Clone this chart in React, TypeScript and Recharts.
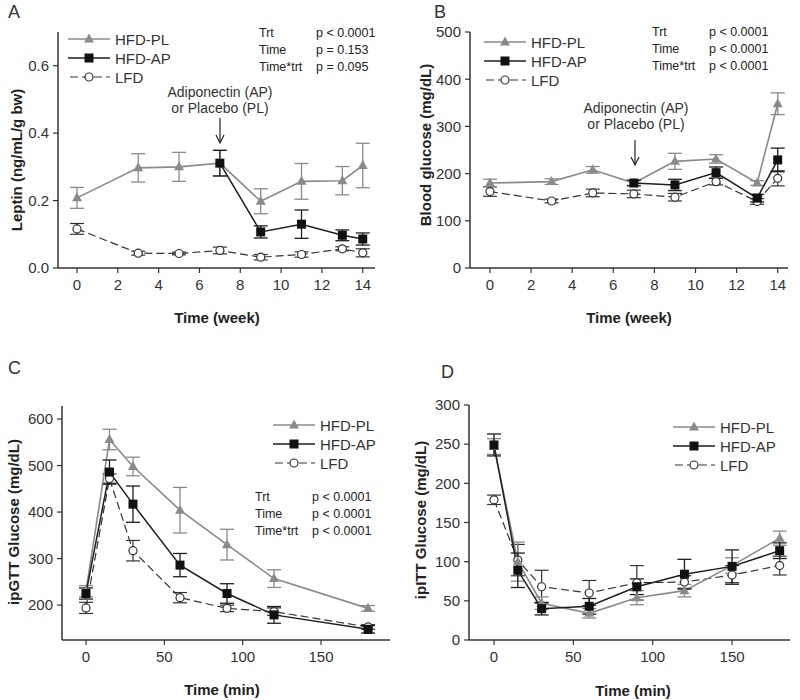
import React from "react";
import { LineChart, Line, XAxis, YAxis, ErrorBar } from "recharts";

// Panel A: leptin over weeks
const weeksA = [0, 3, 5, 7, 9, 11, 13, 14];
const weeksTrt = [7, 9, 11, 13, 14];
const leptinPL = [0.208, 0.297, 0.3, 0.311, 0.198, 0.257, 0.259, 0.304];
const leptinPLErr = [0.031, 0.042, 0.043, 0.038, 0.037, 0.053, 0.042, 0.066];
const leptinAP = [0.311, 0.107, 0.13, 0.097, 0.086];
const leptinAPErr = [0.038, 0.018, 0.042, 0.016, 0.018];
const leptinLFD = [0.116, 0.044, 0.043, 0.052, 0.032, 0.04, 0.057, 0.045];
const leptinLFDErr = [0.016, 0.006, 0.004, 0.01, 0.008, 0.008, 0.006, 0.012];

// Panel B: blood glucose over weeks
const bgPL = [180, 183, 208, 180, 226, 231, 180, 348];
const bgPLErr = [8, 6, 7, 5, 17, 9, 5, 23];
const bgAP = [180, 176, 202, 148, 229];
const bgAPErr = [6, 12, 12, 8, 25];
const bgLFD = [162, 142, 159, 157, 150, 183, 141, 190];
const bgLFDErr = [10, 4, 8, 8, 8, 7, 6, 16];

// Panel C: ipGTT
const gttMin = [0, 15, 30, 60, 90, 120, 180];
const gttPL = [230, 556, 498, 404, 330, 257, 193];
const gttPLErr = [12, 22, 20, 49, 33, 19, 6];
const gttAP = [225, 486, 417, 286, 225, 179, 148];
const gttAPErr = [12, 26, 39, 25, 21, 18, 8];
const gttLFD = [194, 472, 317, 216, 193, 186, 153];
const gttLFDErr = [12, 10, 22, 11, 7, 8, 5];

// Panel D: ipITT
const ittMin = [0, 15, 30, 60, 90, 120, 150, 180];
const ittPL = [247, 100, 47, 34, 54, 63, 95, 130];
const ittPLErr = [10, 25, 8, 6, 9, 8, 10, 9];
const ittAP = [249, 89, 40, 43, 68, 84, 94, 114];
const ittAPErr = [14, 22, 8, 10, 10, 19, 21, 10];
const ittLFD = [179, 102, 68, 60, 73, 74, 83, 95];
const ittLFDErr = [6, 20, 21, 16, 22, 8, 12, 12];

const rows = (xs: number[], ys: number[], es: number[]) =>
  xs.map((x, i) => ({ x, y: ys[i], e: es[i] }));

const GRAY = "#8a8a8a";
const DARK = "#1e1e1e";
const LFDC = "#333";
const TXT = "#333";
const FONT = "'Liberation Sans', Arial, sans-serif";

const triDot = (p: any) => {
  const { cx, cy, index } = p;
  if (cx == null || cy == null) return <g key={`t${index}`} />;
  return (
    <polygon
      key={`t${index}`}
      points={`${cx},${cy - 5.5} ${cx - 5},${cy + 3.5} ${cx + 5},${cy + 3.5}`}
      fill={GRAY}
    />
  );
};
const sqDot = (p: any) => {
  const { cx, cy, index } = p;
  if (cx == null || cy == null) return <g key={`s${index}`} />;
  return <rect key={`s${index}`} x={cx - 4.5} y={cy - 4.5} width={9} height={9} fill="#111" />;
};
const circDot = (p: any) => {
  const { cx, cy, index } = p;
  if (cx == null || cy == null) return <g key={`c${index}`} />;
  return <circle key={`c${index}`} cx={cx} cy={cy} r={4} fill="#fff" stroke={LFDC} strokeWidth={1.2} />;
};

type Series = { x: number; y: number; e: number }[];

const Panel = ({
  width, height, margin, yWidth, xDomain, xTicks, yDomain, yTicks, yFmt, pl, ap, lfd,
}: {
  width: number; height: number; margin: any; yWidth: number;
  xDomain: number[]; xTicks: number[]; yDomain: number[]; yTicks: number[];
  yFmt?: (v: number) => string; pl: Series; ap: Series; lfd: Series;
}) => (
  <LineChart width={width} height={height} margin={margin}>
    <XAxis
      dataKey="x"
      type="number"
      domain={xDomain}
      ticks={xTicks}
      allowDataOverflow
      height={40}
      tickSize={5}
      tickMargin={6}
      axisLine={{ stroke: TXT, strokeWidth: 1.5 }}
      tickLine={{ stroke: TXT, strokeWidth: 1.2 }}
      tick={{ fontSize: 15, fill: TXT, fontFamily: FONT }}
    />
    <YAxis
      type="number"
      domain={yDomain}
      ticks={yTicks}
      allowDataOverflow
      width={yWidth}
      tickSize={5}
      tickMargin={4}
      tickFormatter={yFmt}
      axisLine={{ stroke: TXT, strokeWidth: 1.5 }}
      tickLine={{ stroke: TXT, strokeWidth: 1.2 }}
      tick={{ fontSize: 15, fill: TXT, fontFamily: FONT }}
    />
    <Line data={lfd} dataKey="y" stroke={LFDC} strokeWidth={1.2} strokeDasharray="8 4"
      dot={circDot} activeDot={false} isAnimationActive={false}>
      <ErrorBar dataKey="e" width={7} stroke={LFDC} strokeWidth={1.2} />
    </Line>
    <Line data={pl} dataKey="y" stroke={GRAY} strokeWidth={1.6}
      dot={triDot} activeDot={false} isAnimationActive={false}>
      <ErrorBar dataKey="e" width={7} stroke={GRAY} strokeWidth={1.3} />
    </Line>
    <Line data={ap} dataKey="y" stroke={DARK} strokeWidth={1.5}
      dot={sqDot} activeDot={false} isAnimationActive={false}>
      <ErrorBar dataKey="e" width={7} stroke={DARK} strokeWidth={1.3} />
    </Line>
  </LineChart>
);

const LegendBox = ({ x, y, gap }: { x: number; y: number; gap: number }) => (
  <g fontFamily={FONT} fontSize={15} fill={TXT}>
    <line x1={x} y1={y} x2={x + 42} y2={y} stroke={GRAY} strokeWidth={1.6} />
    <polygon points={`${x + 21},${y - 5.5} ${x + 16},${y + 3.5} ${x + 26},${y + 3.5}`} fill={GRAY} />
    <text x={x + 47} y={y} dominantBaseline="central">HFD-PL</text>
    <line x1={x} y1={y + gap} x2={x + 42} y2={y + gap} stroke={DARK} strokeWidth={1.5} />
    <rect x={x + 16.5} y={y + gap - 4.5} width={9} height={9} fill="#111" />
    <text x={x + 47} y={y + gap} dominantBaseline="central">HFD-AP</text>
    <line x1={x} y1={y + 2 * gap} x2={x + 42} y2={y + 2 * gap} stroke={LFDC} strokeWidth={1.2} strokeDasharray="8 4" strokeDashoffset={-2} />
    <circle cx={x + 21} cy={y + 2 * gap} r={4} fill="#fff" stroke={LFDC} strokeWidth={1.2} />
    <text x={x + 47} y={y + 2 * gap} dominantBaseline="central">LFD</text>
  </g>
);

const Stats = ({ x, y, px, lines }: { x: number; y: number; px: number; lines: string[][] }) => (
  <g fontFamily={FONT} fontSize={12.5} fill="#222">
    {lines.map((l, i) => (
      <g key={i}>
        <text x={x} y={y + i * 17} dominantBaseline="central">{l[0]}</text>
        <text x={px} y={y + i * 17} dominantBaseline="central">{l[1]}</text>
      </g>
    ))}
  </g>
);

const Arrow = ({ x, y1, y2 }: { x: number; y1: number; y2: number }) => (
  <g stroke="#222" strokeWidth={1.2} fill="none">
    <line x1={x} y1={y1} x2={x} y2={y2} />
    <polyline points={`${x - 4},${y2 - 8} ${x},${y2} ${x + 4},${y2 - 8}`} />
  </g>
);

const App = () => {
  const statsA = [["Trt", "p < 0.0001"], ["Time", "p = 0.153"], ["Time*trt", "p = 0.095"]];
  const statsB = [["Trt", "p < 0.0001"], ["Time", "p < 0.0001"], ["Time*trt", "p < 0.0001"]];
  return (
    <div style={{ position: "absolute", left: 0, top: 0, width: 800, height: 700, background: "#fff", fontFamily: FONT }}>
      <div style={{ position: "absolute", left: 0, top: 0 }}>
        <Panel width={400} height={340} margin={{ top: 32, right: 25, left: 0, bottom: 32 }} yWidth={58}
          xDomain={[-0.93, 14.6]} xTicks={[0, 2, 4, 6, 8, 10, 12, 14]}
          yDomain={[0, 0.7]} yTicks={[0, 0.2, 0.4, 0.6]} yFmt={(v) => v.toFixed(1)}
          pl={rows(weeksA, leptinPL, leptinPLErr)} ap={rows(weeksTrt, leptinAP, leptinAPErr)}
          lfd={rows(weeksA, leptinLFD, leptinLFDErr)} />
      </div>
      <div style={{ position: "absolute", left: 400, top: 0 }}>
        <Panel width={400} height={340} margin={{ top: 32, right: 12, left: 0, bottom: 32 }} yWidth={70}
          xDomain={[-0.97, 14.5]} xTicks={[0, 2, 4, 6, 8, 10, 12, 14]}
          yDomain={[0, 500]} yTicks={[0, 100, 200, 300, 400, 500]}
          pl={rows(weeksA, bgPL, bgPLErr)} ap={rows(weeksTrt, bgAP, bgAPErr)}
          lfd={rows(weeksA, bgLFD, bgLFDErr)} />
      </div>
      <div style={{ position: "absolute", left: 0, top: 340 }}>
        <Panel width={400} height={360} margin={{ top: 66, right: 10, left: 0, bottom: 20 }} yWidth={62}
          xDomain={[-15.3, 194]} xTicks={[0, 50, 100, 150]}
          yDomain={[125, 628]} yTicks={[200, 300, 400, 500, 600]}
          pl={rows(gttMin, gttPL, gttPLErr)} ap={rows(gttMin, gttAP, gttAPErr)}
          lfd={rows(gttMin, gttLFD, gttLFDErr)} />
      </div>
      <div style={{ position: "absolute", left: 400, top: 340 }}>
        <Panel width={400} height={360} margin={{ top: 65, right: 10, left: 0, bottom: 20 }} yWidth={69}
          xDomain={[-15.75, 186.5]} xTicks={[0, 50, 100, 150]}
          yDomain={[0, 300]} yTicks={[0, 50, 100, 150, 200, 250, 300]}
          pl={rows(ittMin, ittPL, ittPLErr)} ap={rows(ittMin, ittAP, ittAPErr)}
          lfd={rows(ittMin, ittLFD, ittLFDErr)} />
      </div>
      <svg width={800} height={700} style={{ position: "absolute", left: 0, top: 0, pointerEvents: "none" }}>
        <g fontFamily={FONT} fontSize={18} fill={TXT}>
          <text x={8} y={12} dominantBaseline="central">A</text>
          <text x={434} y={12} dominantBaseline="central">B</text>
          <text x={8} y={368} dominantBaseline="central">C</text>
          <text x={441} y={372} dominantBaseline="central">D</text>
        </g>
        <g fontFamily={FONT} fontSize={15} fontWeight="bold" fill="#222" textAnchor="middle">
          <text transform="translate(16,160) rotate(-90)" dominantBaseline="central">Leptin (ng/mL/g bw)</text>
          <text transform="translate(425,145) rotate(-90)" dominantBaseline="central">Blood glucose (mg/dL)</text>
          <text transform="translate(13,522) rotate(-90)" dominantBaseline="central">ipGTT Glucose (mg/dL)</text>
          <text transform="translate(420,520) rotate(-90)" dominantBaseline="central">ipITT Glucose (mg/dL)</text>
          <text x={217} y={317} dominantBaseline="central">Time (week)</text>
          <text x={629} y={317} dominantBaseline="central">Time (week)</text>
          <text x={222} y={689} dominantBaseline="central">Time (min)</text>
          <text x={633} y={690} dominantBaseline="central">Time (min)</text>
        </g>
        <LegendBox x={68} y={39} gap={19} />
        <LegendBox x={484} y={42} gap={19} />
        <LegendBox x={273} y={425} gap={19} />
        <LegendBox x={673} y={427} gap={19} />
        <Stats x={259} y={33} px={316} lines={statsA} />
        <Stats x={652} y={32} px={709} lines={statsB} />
        <Stats x={255} y={497} px={312} lines={statsB} />
        <g fontFamily={FONT} fontSize={14} fill={TXT} textAnchor="middle">
          <text x={220} y={92} dominantBaseline="central">Adiponectin (AP)</text>
          <text x={220} y={108} dominantBaseline="central">or Placebo (PL)</text>
          <text x={636} y={108} dominantBaseline="central">Adiponectin (AP)</text>
          <text x={636} y={124} dominantBaseline="central">or Placebo (PL)</text>
        </g>
        <Arrow x={220} y1={118} y2={143} />
        <Arrow x={635} y1={140} y2={165} />
      </svg>
    </div>
  );
};

export default App;
